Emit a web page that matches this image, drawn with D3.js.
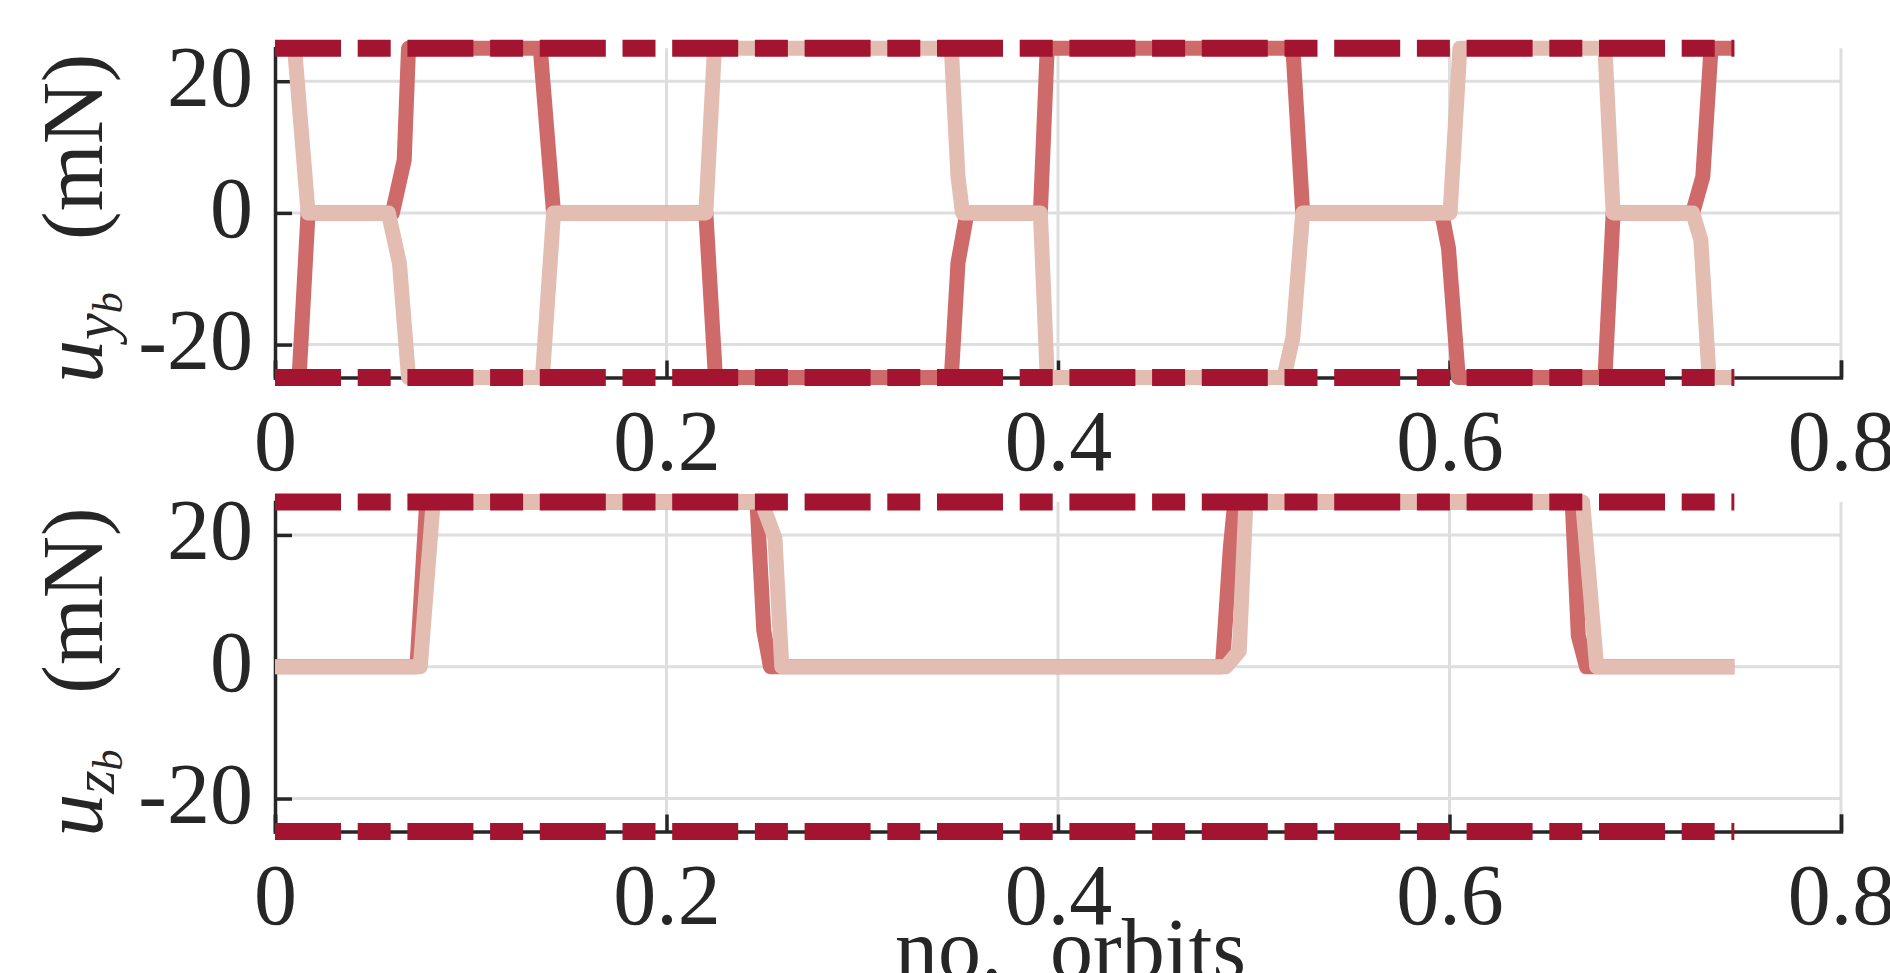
<!DOCTYPE html>
<html>
<head>
<meta charset="utf-8">
<script src="https://cdn.jsdelivr.net/npm/d3@7"></script>
<style>
  body { margin: 0; background: #fff; }
  text { font-family: "Liberation Serif", "DejaVu Serif", serif; fill: #262626; }
</style>
</head>
<body>
<div id="chart"></div>
<script>
// thrust limit and end of the run (orbits)
const uMax = 25;
const tEnd = 0.7455;

// tick values / labels
const xTicks = [0, 0.2, 0.4, 0.6, 0.8];
const xTickLabels = ["0", "0.2", "0.4", "0.6", "0.8"];
const yTicks = [-20, 0, 20];
const yTickLabels = ["-20", "0", "20"];

// u_yb, first run (red)
const tYRed = [0, 0.0123, 0.0169, 0.0600, 0.0660, 0.0682, 0.1355, 0.1423, 0.2201, 0.2250,
  0.3455, 0.3489, 0.3535, 0.3910, 0.3945, 0.5200, 0.5250, 0.5960, 0.5995, 0.6045,
  0.6794, 0.6836, 0.7242, 0.7294, 0.7336, 0.7455];
const uYRed = [-25, -25, 0, 0, 8, 25, 25, 0, 0, -25,
  -25, -7.6, 0, 0, 25, 25, 0, 0, -5.4, -25,
  -25, 0, 0, 5.5, 25, 25];

// u_yb, second run (pink)
const tYPink = [0, 0.0100, 0.0169, 0.0579, 0.0636, 0.0682, 0.1366, 0.1423, 0.2201, 0.2245,
  0.3455, 0.3489, 0.3512, 0.3910, 0.3945, 0.5154, 0.5200, 0.5250, 0.6003, 0.6053,
  0.6794, 0.6836, 0.7242, 0.7284, 0.7326, 0.7455];
const uYPink = [25, 25, 0, 0, -7.7, -25, -25, 0, 0, 25,
  25, 5.5, 0, 0, -25, -25, -18.9, 0, 0, 25,
  25, 0, 0, -4.1, -25, -25];

// u_zb, first run (red)
const tZRed = [0, 0.0725, 0.0775, 0.2462, 0.2497, 0.2531, 0.4840, 0.4880, 0.4903, 0.6627, 0.6658, 0.6700, 0.7455];
const uZRed = [0, 0, 25, 25, 5.5, 0, 0, 17.9, 25, 25, 4.7, 0, 0];

// u_zb, second run (pink)
const tZPink = [0, 0.0742, 0.0808, 0.2486, 0.2554, 0.2589, 0.4858, 0.4926, 0.4960, 0.6680, 0.6752, 0.7455];
const uZPink = [0, 0, 25, 25, 19.5, 0, 0, 2.4, 25, 25, 0, 0];

const colRed = "#cf6a6b", colPink = "#e3bdb2", colLim = "#a2142f";

const svg = d3.select("#chart")
  .append("svg")
    .attr("width", 1890)
    .attr("height", 973)
    .style("display", "block");

svg.append("rect").attr("width", 1890).attr("height", 973).attr("fill", "#fff");

const x = d3.scaleLinear().domain([0, 0.8]).range([275, 1841]);

const zip = (t, u) => t.map((d, i) => [d, u[i]]);

function panel(yRange, red, pink, sub) {
  const y = d3.scaleLinear().domain([-uMax, uMax]).range(yRange);
  const g = svg.append("g");

  // grid
  g.append("g").selectAll("line").data(xTicks.slice(1)).join("line")
    .attr("x1", d => x(d)).attr("x2", d => x(d))
    .attr("y1", y(uMax)).attr("y2", y(-uMax))
    .attr("stroke", "#dedede").attr("stroke-width", 3);
  g.append("g").selectAll("line").data(yTicks).join("line")
    .attr("x1", x(0)).attr("x2", x(0.8))
    .attr("y1", d => y(d)).attr("y2", d => y(d))
    .attr("stroke", "#dedede").attr("stroke-width", 3);

  // axes: ticks point inward
  const xAxis = g.append("g")
    .attr("transform", `translate(0,${y(-uMax)})`)
    .call(d3.axisBottom(x).tickValues(xTicks).tickSize(-17).tickPadding(0).tickFormat((d, i) => xTickLabels[i]));
  const yAxis = g.append("g")
    .attr("transform", `translate(${x(0)},0)`)
    .call(d3.axisLeft(y).tickValues(yTicks).tickSize(-17).tickPadding(0).tickFormat((d, i) => yTickLabels[i]));
  [xAxis, yAxis].forEach(a => {
    a.select(".domain").attr("stroke", "#262626").attr("stroke-width", 3.5);
    a.selectAll(".tick line").attr("stroke", "#262626").attr("stroke-width", 3.5);
    a.selectAll("text").attr("fill", "#262626").attr("font-size", 86)
      .attr("font-family", "Liberation Serif, DejaVu Serif, serif");
  });
  xAxis.selectAll("text").attr("dy", null).attr("y", 92);
  yAxis.selectAll("text").attr("dy", null).attr("y", 24).attr("x", -22);

  // data
  const line = d3.line().x(d => x(d[0])).y(d => y(d[1]));
  g.append("path").datum(red).attr("d", line)
    .attr("fill", "none").attr("stroke", colRed).attr("stroke-width", 15)
    .attr("stroke-linejoin", "round");
  g.append("path").datum(pink).attr("d", line)
    .attr("fill", "none").attr("stroke", colPink).attr("stroke-width", 15)
    .attr("stroke-linejoin", "round");

  // limits
  [uMax, -uMax].forEach(v => {
    g.append("path").datum([[0, v], [tEnd, v]]).attr("d", line)
      .attr("fill", "none").attr("stroke", colLim).attr("stroke-width", 17)
      .attr("stroke-dasharray", "66,16.7,33,16.7");
  });

  // y label  u_{.._b} (mN)
  const yMid = (yRange[0] + yRange[1]) / 2;
  const lab = g.append("text")
    .attr("transform", `translate(102,${yMid + 170}) rotate(-90)`)
    .attr("font-size", 86);
  lab.append("tspan").attr("font-style", "italic").text("u");
  lab.append("tspan").attr("font-style", "italic").attr("font-size", 60).attr("dy", 12).text(sub);
  lab.append("tspan").attr("font-style", "italic").attr("font-size", 42).attr("dy", 8).text("b");
  lab.append("tspan").attr("x", 143).attr("y", 0).text("(mN)");
}

panel([377.5, 48.3], zip(tYRed, uYRed), zip(tYPink, uYPink), "y");
panel([831.5, 502], zip(tZRed, uZRed), zip(tZPink, uZPink), "z");

// x label
const xl = svg.append("text").attr("y", 978).attr("font-size", 86);
xl.append("tspan").attr("x", 895).text("no.");
xl.append("tspan").attr("x", 1050).text("orbits");
</script>
</body>
</html>
